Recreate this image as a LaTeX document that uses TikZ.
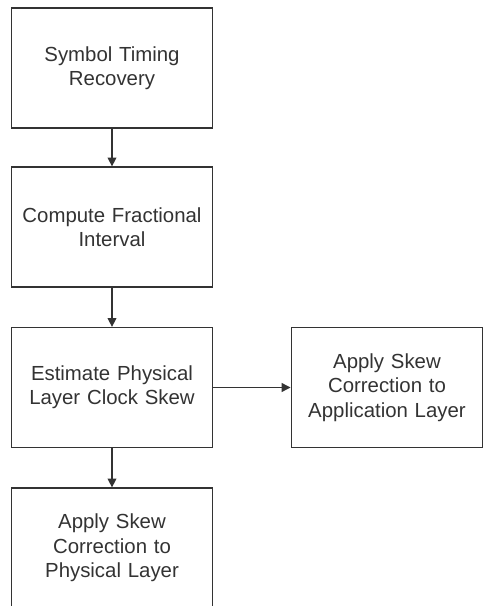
\documentclass[tikz,border=0pt]{standalone}
\usepackage{fontspec}
\setmainfont{Liberation Sans}
\usetikzlibrary{arrows.meta}

\begin{document}
\begin{tikzpicture}[-{Triangle[width=5pt,length=5pt]},
                line width=0.7pt, draw=black!80,
                step box/.style={rectangle,draw=black!80,fill=white,minimum width=4cm,minimum height=2.4cm,
                  align=center,text width=3.8cm,font=\fontsize{11.6}{13.9}\selectfont,text=black!80}]

            \useasboundingbox (0,0) rectangle (9.66,12.12);

            \node[step box] (STR) at (2.24,10.76) {Symbol Timing\\Recovery};
            \node[step box] (CFI) at (2.24,7.58) {Compute Fractional\\Interval};
            \node[step box] (EPS) at (2.24,4.37) {Estimate Physical\\Layer Clock Skew};
            \node[step box, minimum width=3.8cm, text width=3.6cm] (ASA) at (7.74,4.37) {Apply Skew\\Correction to\\Application Layer};
            \node[step box] (ASP) at (2.24,1.16) {Apply Skew\\Correction to\\Physical Layer};

            \path[draw=black!80]
            (STR) edge (CFI)
            (CFI) edge (EPS)
            (EPS) edge (ASA)
            (EPS) edge (ASP);

        \end{tikzpicture}
\end{document}
